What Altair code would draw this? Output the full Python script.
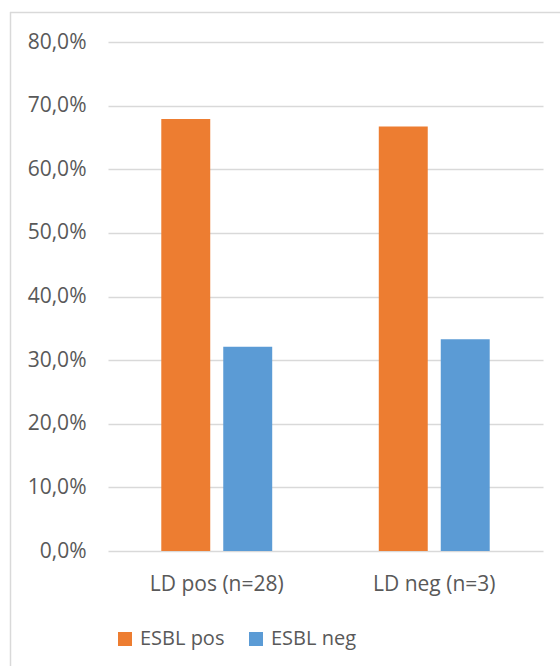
import altair as alt
import pandas as pd

# Share of ESBL-positive / ESBL-negative isolates per LD group (percent)
groups = ["LD pos (n=28)", "LD neg (n=3)"]
series = ["ESBL pos", "ESBL neg"]
esbl_pos = [67.9, 66.7]
esbl_neg = [32.1, 33.3]
y_ticks = [0, 10, 20, 30, 40, 50, 60, 70, 80]

rows = []
for g, p, n in zip(groups, esbl_pos, esbl_neg):
    rows.append({"group": g, "series": series[0], "value": p})
    rows.append({"group": g, "series": series[1], "value": n})
df = pd.DataFrame(rows)

FONT = "Open Sans"
TEXT = "#595959"
GRID = "#d9d9d9"

bars = alt.Chart(df).mark_bar().encode(
    x=alt.X(
        "group:N",
        sort=groups,
        title=None,
        scale=alt.Scale(paddingInner=0.49, paddingOuter=0.245),
        axis=alt.Axis(
            labelAngle=0, labelFontSize=21, labelColor=TEXT, labelFont=FONT,
            labelPadding=22, domain=False, ticks=False, grid=False,
        ),
    ),
    xOffset=alt.XOffset("series:N", sort=series,
                        scale=alt.Scale(paddingInner=0.21, paddingOuter=0)),
    y=alt.Y(
        "value:Q",
        title=None,
        scale=alt.Scale(domain=[0, 80], nice=False),
        axis=alt.Axis(
            values=y_ticks, labelFontSize=21, labelColor=TEXT, labelFont=FONT,
            labelPadding=22, domain=False, ticks=False, grid=True,
            gridColor=GRID, gridWidth=1.3,
            labelExpr="replace(format(datum.value, '.1f'), '.', ',') + '%'",
        ),
    ),
    color=alt.Color(
        "series:N",
        sort=series,
        scale=alt.Scale(domain=series, range=["#ED7D31", "#5B9BD5"]),
        legend=alt.Legend(
            title=None, orient="none", direction="horizontal",
            legendX=7, legendY=587, padding=0, offset=0,
            symbolType="square", symbolSize=196, symbolStrokeWidth=0,
            labelFontSize=20, labelColor=TEXT, labelFont=FONT,
            labelOffset=5, columnPadding=21,
        ),
    ),
)

# light frame around the chart area (top and left edges)
frame_top = alt.Chart().mark_rule(color=GRID, strokeWidth=1.5).encode(
    x=alt.value(-98), x2=alt.value(460), y=alt.value(-29.5)
)
frame_left = alt.Chart().mark_rule(color=GRID, strokeWidth=1.5).encode(
    x=alt.value(-97.5), y=alt.value(-30), y2=alt.value(640)
)

chart = alt.layer(bars, frame_top, frame_left).properties(
    width=435,
    height=509,
    padding={"left": 108, "top": 42, "right": 17, "bottom": 115},
    autosize=alt.AutoSizeParams(type="none"),
    background="white",
).configure_view(stroke=None)

chart.save("out.html", embed_options={"renderer": "svg", "actions": False})
